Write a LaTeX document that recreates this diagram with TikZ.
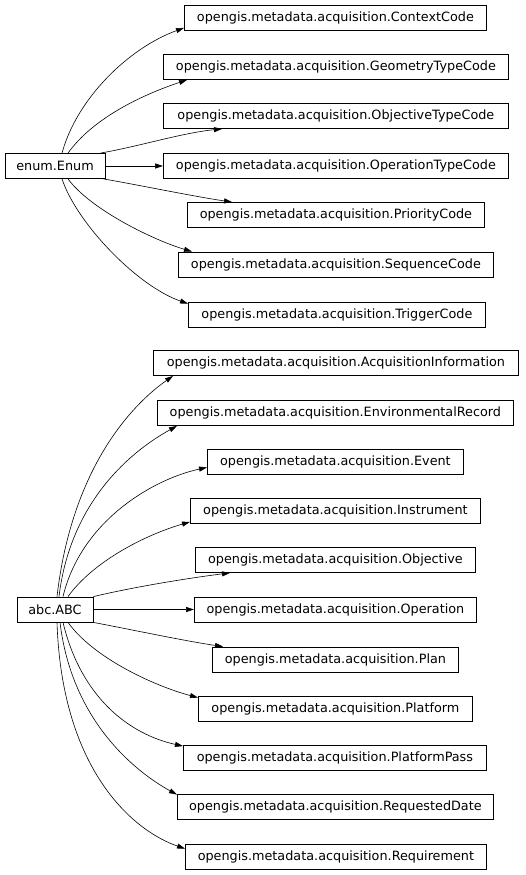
\documentclass[tikz,border=0pt]{standalone}
\usepackage{fontspec}
\setmainfont{DejaVu Sans}
\usetikzlibrary{arrows.meta}

\begin{document}
\begin{tikzpicture}[x=1pt,y=-1pt,>={Triangle[length=8pt,width=5pt]},
  cls/.style={draw,line width=0.8pt,inner xsep=4pt,inner ysep=0pt,
    minimum height=25pt,minimum width=#1,font=\fontsize{12.8}{15}\selectfont},
  cls/.default=100pt,
  edge/.style={->,line width=0.6pt}]

\useasboundingbox (0,0) rectangle (525,875);

% Base classes
\node[cls=100pt] (enum) at (55,166) {enum.Enum};
\node[cls=76pt] (abc) at (55,609.5) {abc.ABC};

% Enum subclasses
\node[cls=302pt,anchor=west] (ctx) at (184,18) {opengis.metadata.acquisition.ContextCode};
\node[cls=345pt,anchor=west] (geo) at (163,67) {opengis.metadata.acquisition.GeometryTypeCode};
\node[cls=345pt,anchor=west] (objc) at (163,116) {opengis.metadata.acquisition.ObjectiveTypeCode};
\node[cls=345pt,anchor=west] (optc) at (163,166) {opengis.metadata.acquisition.OperationTypeCode};
\node[cls=297pt,anchor=west] (prio) at (187,215) {opengis.metadata.acquisition.PriorityCode};
\node[cls=315pt,anchor=west] (seq) at (178,264.5) {opengis.metadata.acquisition.SequenceCode};
\node[cls=297pt,anchor=west] (trig) at (188,314.5) {opengis.metadata.acquisition.TriggerCode};

% ABC subclasses
\node[cls=365pt,anchor=west] (acq) at (153,363) {opengis.metadata.acquisition.AcquisitionInformation};
\node[cls=356pt,anchor=west] (env) at (157,413) {opengis.metadata.acquisition.EnvironmentalRecord};
\node[cls=256pt,anchor=west] (evt) at (207,461.5) {opengis.metadata.acquisition.Event};
\node[cls=290pt,anchor=west] (instr) at (190,511) {opengis.metadata.acquisition.Instrument};
\node[cls=280pt,anchor=west] (obj) at (195,560) {opengis.metadata.acquisition.Objective};
\node[cls=282pt,anchor=west] (oper) at (194,609.5) {opengis.metadata.acquisition.Operation};
\node[cls=246pt,anchor=west] (plan) at (212,659.5) {opengis.metadata.acquisition.Plan};
\node[cls=274pt,anchor=west] (plat) at (198,708.5) {opengis.metadata.acquisition.Platform};
\node[cls=303pt,anchor=west] (pass) at (183,758) {opengis.metadata.acquisition.PlatformPass};
\node[cls=316pt,anchor=west] (rdate) at (177,806.5) {opengis.metadata.acquisition.RequestedDate};
\node[cls=301pt,anchor=west] (req) at (185,856.5) {opengis.metadata.acquisition.Requirement};

% Enum edges
\draw[edge] ([xshift=7pt]enum.north) .. controls +(15,-55) and +(-55,20) .. ([yshift=3pt]ctx.south west);
\draw[edge] ([xshift=13pt]enum.north) .. controls +(25,-35) and +(-45,15) .. ([xshift=24pt]geo.south west);
\draw[edge] ([xshift=-5pt]enum.north east) .. controls +(40,-7) and +(-40,4) .. ([xshift=59pt]objc.south west);
\draw[edge] (enum.east) -- (optc.west);
\draw[edge] ([xshift=-2pt]enum.south east) .. controls +(40,7) and +(-40,-6) .. ([xshift=45pt]prio.north west);
\draw[edge] ([xshift=13pt]enum.south) .. controls +(22,30) and +(-40,-12) .. ([xshift=14pt]seq.north west);
\draw[edge] ([xshift=7pt]enum.south) .. controls +(15,45) and +(-50,-17) .. ([yshift=-2pt]trig.north west);

% ABC edges
\draw[edge] ([xshift=2pt]abc.north) .. controls +(15,-130) and +(-40,28) .. ([xshift=20pt]acq.south west);
\draw[edge] ([xshift=4pt]abc.north) .. controls +(12,-100) and +(-40,22) .. ([xshift=20pt]env.south west);
\draw[edge] ([xshift=8pt]abc.north) .. controls +(18,-75) and +(-55,12) .. ([yshift=7pt]evt.south west);
\draw[edge] ([xshift=13pt]abc.north) .. controls +(25,-35) and +(-45,13) .. ([yshift=2pt]instr.south west);
\draw[edge] (abc.north east) .. controls +(42,-10) and +(-40,5) .. ([xshift=35pt]obj.south west);
\draw[edge] (abc.east) -- (oper.west);
\draw[edge] (abc.south east) .. controls +(42,8) and +(-40,-6) .. ([xshift=11pt]plan.north west);
\draw[edge] ([xshift=13pt]abc.south) .. controls +(25,35) and +(-45,-12) .. ([yshift=-2pt]plat.north west);
\draw[edge] ([xshift=8pt]abc.south) .. controls +(18,75) and +(-54,-12) .. ([yshift=-1pt]pass.north west);
\draw[edge] ([xshift=5pt]abc.south) .. controls +(12,100) and +(-40,-22) .. ([yshift=-1pt]rdate.north west);
\draw[edge] ([xshift=2pt]abc.south) .. controls +(5,150) and +(-50,-17) .. ([yshift=-5pt]req.north west);

\end{tikzpicture}
\end{document}
